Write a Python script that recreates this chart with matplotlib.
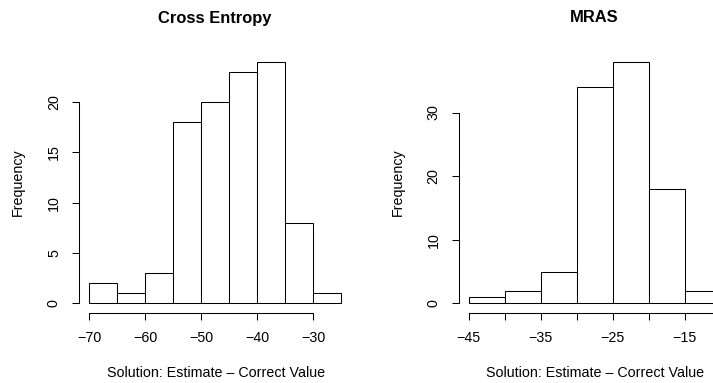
import numpy as np
import matplotlib
matplotlib.use("Agg")
import matplotlib.pyplot as plt

plt.rcParams['font.family'] = ['Liberation Sans', 'DejaVu Sans']

# histogram bins (width 5) and counts for each method
ce_edges = [-70, -65, -60, -55, -50, -45, -40, -35, -30, -25]
ce_counts = [2, 1, 3, 18, 20, 23, 24, 8, 1]
mras_edges = [-45, -40, -35, -30, -25, -20, -15, -10]
mras_counts = [1, 2, 5, 34, 38, 18, 2]

ce_xticks = [-70, -60, -50, -40, -30]
ce_yticks = [0, 5, 10, 15, 20]
mras_xticks = [-45, -40, -35, -30, -25, -20, -15, -10]
mras_xlabels = ['\u221245', '', '\u221235', '', '\u221225', '', '\u221215', '']
mras_yticks = [0, 10, 20, 30]

W, H = 713, 383
fig = plt.figure(figsize=(W / 100, H / 100), dpi=100)

xlab = 'Solution: Estimate \u2013 Correct Value'
base = 10.3


def r_hist(ax, edges, counts, xticks, xlabels, yticks):
    edges = np.asarray(edges, float)
    widths = np.diff(edges)
    ax.bar(edges[:-1], counts, width=widths, align='edge',
           facecolor='white', edgecolor='black', linewidth=0.75)
    # R style axis extension of 4%
    xr = edges[-1] - edges[0]
    ax.set_xlim(edges[0] - 0.04 * xr, edges[-1] + 0.04 * xr)
    ymax = max(counts)
    ax.set_ylim(-0.04 * ymax, ymax * 1.04)
    for s in ['top', 'right']:
        ax.spines[s].set_visible(False)
    ax.spines['left'].set_bounds(yticks[0], yticks[-1])
    ax.spines['bottom'].set_bounds(xticks[0], xticks[-1])
    for s in ['left', 'bottom']:
        ax.spines[s].set_linewidth(0.75)
    ax.set_xticks(xticks)
    ax.set_xticklabels(xlabels if xlabels else
                       ['\u2212%d' % abs(t) for t in xticks])
    ax.set_yticks(yticks)
    ax.set_yticklabels([str(t) for t in yticks], rotation=90, va='center')
    ax.tick_params(direction='out', length=5, width=0.75, labelsize=base)
    ax.tick_params(axis='x', pad=8)
    ax.tick_params(axis='y', pad=8)
    ax.patch.set_visible(False)


pw = 272 / W
ph = 261 / H
pb = 1 - 313 / H

ax1 = fig.add_axes([79 / W, pb, pw, ph])
r_hist(ax1, ce_edges, ce_counts, ce_xticks, None, ce_yticks)
ax2 = fig.add_axes([458.7 / W, pb, pw, ph])
r_hist(ax2, mras_edges, mras_counts, mras_xticks, mras_xlabels, mras_yticks)

# titles and axis labels
fig.text(215 / W, 1 - 18 / H, 'Cross Entropy', ha='center', va='center',
         fontsize=base * 1.15, fontweight='bold')
fig.text(594 / W, 1 - 18 / H, 'MRAS', ha='center', va='center',
         fontsize=base * 1.15, fontweight='bold')
fig.text(216 / W, 1 - 373 / H, xlab, ha='center', va='center', fontsize=base)
fig.text(595 / W, 1 - 373 / H, xlab, ha='center', va='center', fontsize=base)
fig.text(18 / W, 1 - 182 / H, 'Frequency', ha='center', va='center',
         rotation=90, fontsize=base)
fig.text(398 / W, 1 - 182 / H, 'Frequency', ha='center', va='center',
         rotation=90, fontsize=base)

fig.savefig('out.png', dpi=100)
